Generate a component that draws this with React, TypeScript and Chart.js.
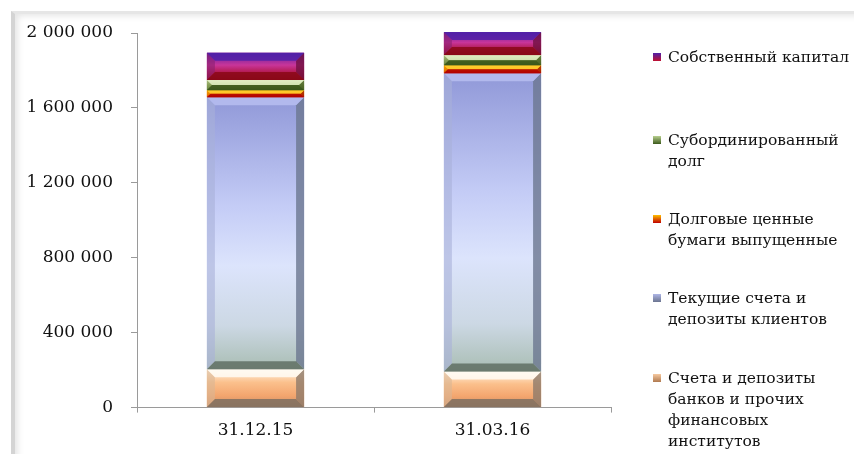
import React, { useEffect, useRef } from "react";
import { Chart, registerables } from "chart.js";

Chart.register(...registerables);

const categories = ["31.12.15", "31.03.16"];
const seriesNames = [
  "Счета и депозиты\nбанков и прочих\nфинансовых\nинститутов",
  "Текущие счета и\nдепозиты клиентов",
  "Долговые ценные\nбумаги выпущенные",
  "Субординированный\nдолг",
  "Собственный капитал",
];
const banksDeposits = [205000, 193000];
const clientAccounts = [1452000, 1592000];
const debtSecurities = [38000, 43000];
const subordinatedDebt = [54000, 54000];
const equity = [145000, 123000];
const yTicks = [0, 400000, 800000, 1200000, 1600000, 2000000];

type Style = {
  face: [number, string][];
  top: string;
  bottom: string;
  left: string;
  right: string;
  legend: string;
};

const styles: Style[] = [
  {
    face: [[0, "#FFF4E4"], [0.35, "#FBC08C"], [0.7, "#F3A56E"], [1, "#C98E66"]],
    top: "#FFFCF4",
    bottom: "#7E6E60",
    left: "#D9B594",
    right: "#8F7B6A",
    legend: "linear-gradient(#F6C9A0, #B07A50)",
  },
  {
    face: [[0, "#9098D8"], [0.4, "#C4CCF6"], [0.62, "#DCE4FC"], [0.84, "#CCD8E4"], [1, "#A9BDB3"]],
    top: "#B7BEF0",
    bottom: "#5F6E63",
    left: "#A8B0D8",
    right: "#6C7790",
    legend: "linear-gradient(#AEB6E6, #6C7590)",
  },
  {
    face: [[0, "#FFC000"], [0.5, "#F07800"], [1, "#C00000"]],
    top: "#FFD030",
    bottom: "#B00000",
    left: "#E89000",
    right: "#A02000",
    legend: "linear-gradient(#FFC000, #C00000)",
  },
  {
    face: [[0, "#DCE8B8"], [0.5, "#7E9A48"], [1, "#3C5A1C"]],
    top: "#E2EEC4",
    bottom: "#3A561A",
    left: "#8CA460",
    right: "#4C6428",
    legend: "linear-gradient(#B8D090, #3C5A1C)",
  },
  {
    face: [[0, "#5A20A0"], [0.45, "#C8359A"], [0.75, "#B01848"], [1, "#8C0A1C"]],
    top: "#5020A8",
    bottom: "#8A0818",
    left: "#8A2070",
    right: "#701040",
    legend: "linear-gradient(#5020A8, #C01030)",
  },
];

const seriesData = [banksDeposits, clientAccounts, debtSecurities, subordinatedDebt, equity];

const fmt = (v: number) => String(v).replace(/\B(?=(\d{3})+(?!\d))/g, " ");

const bevelPlugin = {
  id: "bevel",
  afterDatasetsDraw(chart: any) {
    const ctx: CanvasRenderingContext2D = chart.ctx;
    chart.data.datasets.forEach((_ds: any, di: number) => {
      const meta = chart.getDatasetMeta(di);
      const st = styles[di];
      meta.data.forEach((el: any) => {
        const p = el.getProps(["x", "y", "base", "width"], true);
        const top = Math.min(p.y, p.base);
        const bot = Math.max(p.y, p.base);
        const l = p.x - p.width / 2;
        const r = p.x + p.width / 2;
        const h = bot - top;
        const b = Math.min(8, h / 2, p.width / 2);
        ctx.save();
        const g = ctx.createLinearGradient(0, top, 0, bot);
        st.face.forEach(([o, c]) => g.addColorStop(o, c));
        ctx.fillStyle = g;
        ctx.fillRect(l, top, r - l, h);
        const poly = (pts: number[][], c: string) => {
          ctx.beginPath();
          ctx.moveTo(pts[0][0], pts[0][1]);
          for (let i = 1; i < pts.length; i++) ctx.lineTo(pts[i][0], pts[i][1]);
          ctx.closePath();
          ctx.fillStyle = c;
          ctx.fill();
        };
        ctx.globalAlpha = 0.6;
        poly([[l, top], [l + b, top + b], [l + b, bot - b], [l, bot]], st.left);
        ctx.globalAlpha = 0.8;
        poly([[r, top], [r - b, top + b], [r - b, bot - b], [r, bot]], st.right);
        ctx.globalAlpha = 0.85;
        poly([[l, top], [r, top], [r - b, top + b], [l + b, top + b]], st.top);
        poly([[l, bot], [r, bot], [r - b, bot - b], [l + b, bot - b]], st.bottom);
        ctx.restore();
      });
    });
  },
};

export default function App() {
  const ref = useRef<HTMLCanvasElement | null>(null);

  useEffect(() => {
    if (!ref.current) return;
    const chart = new Chart(ref.current, {
      type: "bar",
      data: {
        labels: categories,
        datasets: seriesNames.map((name, i) => ({
          label: name,
          data: seriesData[i],
          backgroundColor: styles[i].face[1][1],
          borderWidth: 0,
          barPercentage: 0.41,
          categoryPercentage: 1,
        })),
      },
      options: {
        animation: false,
        responsive: false,
        maintainAspectRatio: false,
        layout: { padding: { top: 33, right: 243, bottom: 5, left: 0 } },
        plugins: { legend: { display: false }, tooltip: { enabled: false } },
        scales: {
          x: {
            stacked: true,
            grid: { drawOnChartArea: false, tickLength: 5, color: "#9a9a9a" },
            border: { color: "#9a9a9a" },
            ticks: {
              padding: 8,
              color: "#111",
              font: { family: "'DejaVu Serif'", size: 17 },
            },
          },
          y: {
            stacked: true,
            min: 0,
            max: 2000000,
            afterFit: (s: any) => {
              s.width = 137;
            },
            afterBuildTicks: (s: any) => {
              s.ticks = yTicks.map((v) => ({ value: v }));
            },
            grid: { drawOnChartArea: false, tickLength: 6, color: "#9a9a9a" },
            border: { color: "#9a9a9a" },
            ticks: {
              padding: 18,
              color: "#111",
              font: { family: "'DejaVu Serif'", size: 17 },
              callback: (v: any) => fmt(Number(v)),
            },
          },
        },
      },
      plugins: [bevelPlugin],
    });
    return () => chart.destroy();
  }, []);

  const legendTops = [368, 288, 209, 130, 47];

  return (
    <div
      style={{
        position: "absolute",
        left: 0,
        top: 0,
        width: 854,
        height: 454,
        background: "#fff",
        overflow: "hidden",
      }}
    >
      <div
        style={{
          position: "absolute",
          left: 11,
          top: 11,
          width: 860,
          height: 460,
          borderLeft: "4px solid #d4d4d4",
          borderTop: "3px solid #e6e6e6",
          boxShadow: "inset 5px 4px 6px -2px rgba(0,0,0,0.10)",
        }}
      />
      <canvas ref={ref} width={854} height={454} style={{ position: "absolute", left: 0, top: 0 }} />
      {seriesNames.map((name, i) => (
        <div
          key={i}
          style={{
            position: "absolute",
            left: 653,
            top: legendTops[i],
            fontFamily: "'DejaVu Serif'",
            fontSize: 15.5,
            lineHeight: "21px",
            color: "#111",
            whiteSpace: "pre",
          }}
        >
          <span
            style={{
              position: "absolute",
              left: 0,
              top: 6,
              width: 8,
              height: 8,
              background: styles[i].legend,
            }}
          />
          <div style={{ marginLeft: 15 }}>{name}</div>
        </div>
      ))}
    </div>
  );
}
